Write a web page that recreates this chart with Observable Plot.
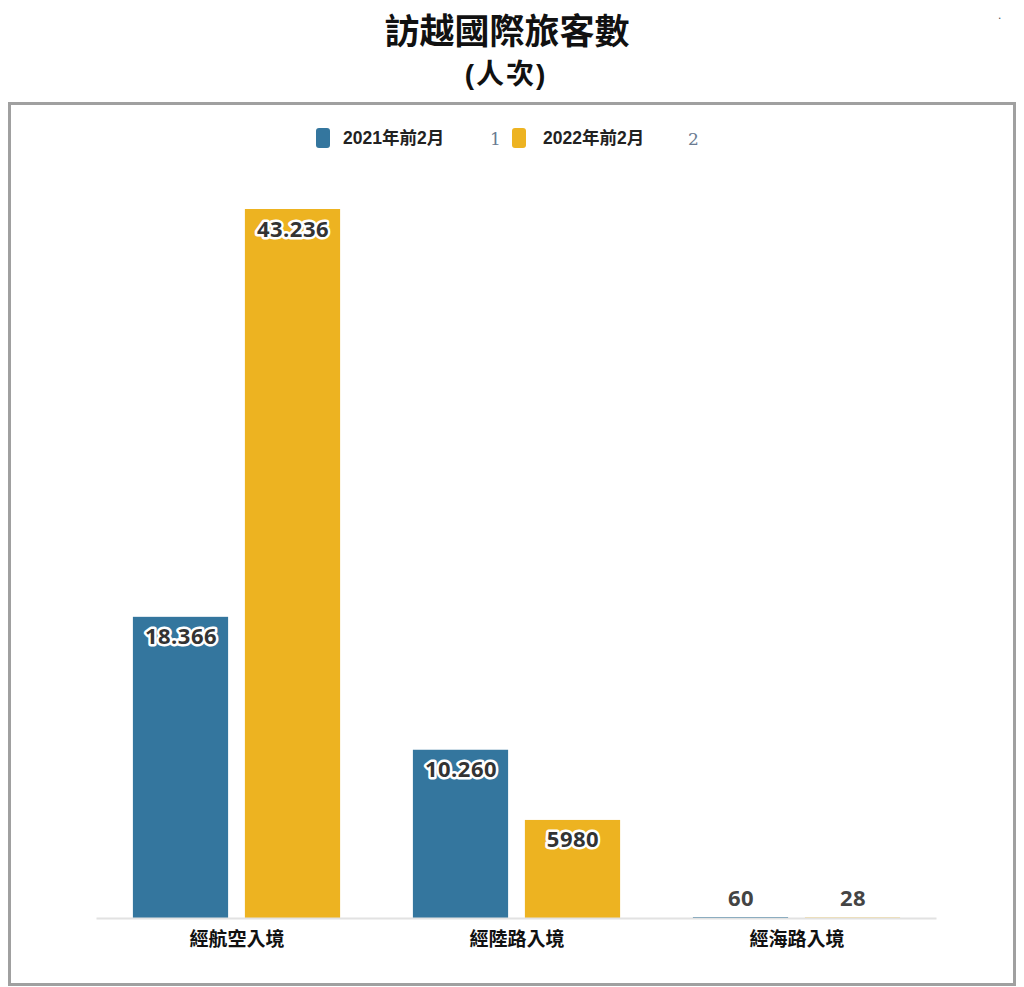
<!DOCTYPE html>
<html>
<head>
<meta charset="utf-8">
<script src="https://cdn.jsdelivr.net/npm/d3@7"></script>
<script src="https://cdn.jsdelivr.net/npm/@observablehq/plot@0.6"></script>
<style>
  html, body { margin: 0; padding: 0; background: #fff; }
  body { width: 1024px; height: 987px; position: relative; overflow: hidden;
         font-family: "Liberation Sans", Arial, "Noto Sans CJK TC", sans-serif; }
  #title { position: absolute; left: 0; width: 1014px; top: 11px; text-align: center;
           font-size: 35px; line-height: 42px; font-weight: bold; color: #111; }
  #subtitle { position: absolute; left: 0; width: 1012px; top: 57px; text-align: center;
              font-size: 28px; line-height: 36px; font-weight: bold; color: #111; letter-spacing: 2px; }
  #box { position: absolute; left: 8px; top: 102px; width: 1008px; height: 884px;
         border: 3px solid #a0a0a0; box-sizing: border-box; }
  #chart { position: absolute; left: 10px; top: 105px; }
  #chart g[aria-label="text"] text { letter-spacing: 0.5px; }
  .sw { position: absolute; width: 14px; height: 20px; border-radius: 3px; top: 128px; }
  .lt { position: absolute; top: 127px; font-size: 17.5px; line-height: 22px; font-weight: bold; color: #222;
        font-family: "Liberation Sans", Arial, "Noto Sans CJK TC", sans-serif; }
  .stray { position: absolute; top: 128px; font-size: 17px; line-height: 22px; color: #6a7a90;
           font-family: "DejaVu Serif", "Liberation Serif", serif; }
  #dot { position: absolute; left: 998px; top: 8px; font-size: 12px; color: #555; }
</style>
</head>
<body>
<div id="title">訪越國際旅客數</div>
<div id="subtitle">(人次)</div>
<div id="dot">.</div>
<div id="box"></div>
<div id="legend"></div>
<div id="chart"></div>
<script>
const categories = ["經航空入境", "經陸路入境", "經海路入境"];
const seriesNames = ["2021年前2月", "2022年前2月"];
const values2021 = [18366, 10260, 60];
const values2022 = [43236, 5980, 28];
const labels2021 = ["18.366", "10.260", "60"];
const labels2022 = ["43.236", "5980", "28"];
const colors = ["#34769e", "#edb321"];

const rows2021 = categories.map((c, i) => ({cat: c, v: values2021[i], label: labels2021[i]}));
const rows2022 = categories.map((c, i) => ({cat: c, v: values2022[i], label: labels2022[i]}));

// legend
const legend = document.getElementById("legend");
const legendPos = [{sw: 316, t: 343, s: 490, stray: "1"}, {sw: 512, t: 543, s: 688, stray: "2"}];
seriesNames.forEach((name, i) => {
  const sw = document.createElement("div");
  sw.className = "sw"; sw.style.left = legendPos[i].sw + "px"; sw.style.background = colors[i];
  legend.appendChild(sw);
  const t = document.createElement("div");
  t.className = "lt"; t.style.left = legendPos[i].t + "px"; t.textContent = name;
  legend.appendChild(t);
  const s = document.createElement("div");
  s.className = "stray"; s.style.left = legendPos[i].s + "px"; s.textContent = legendPos[i].stray;
  legend.appendChild(s);
});

const labelFont = {fontFamily: "'Open Sans', 'Noto Sans', sans-serif", fontWeight: 700, fontSize: 22};
const big = d => d.v > 2000;

const chart = Plot.plot({
  width: 1004,
  height: 878,
  marginTop: 104,
  marginBottom: 65,
  marginLeft: 86.5,
  marginRight: 77.5,
  style: {background: "transparent", fontFamily: "'Noto Sans CJK TC', sans-serif"},
  x: {domain: categories, paddingInner: 0.26, paddingOuter: 0.13, round: false, label: null},
  y: {domain: [0, 43236], axis: null},
  marks: [
    Plot.barY(rows2021, {x: "cat", y: "v", fill: colors[0], insetRight: 112}),
    Plot.barY(rows2022, {x: "cat", y: "v", fill: colors[1], insetLeft: 112}),
    Plot.ruleY([0], {stroke: "#e2e2e2", strokeWidth: 2}),
    Plot.axisX({tickSize: 0, tickPadding: 14, fontSize: 19, fontWeight: "bold", fill: "#111", label: null}),
    Plot.text(rows2021.filter(big), {x: "cat", y: "v", text: "label", dx: -56, dy: 20, fill: "#333", stroke: "white", strokeWidth: 5, ...labelFont}),
    Plot.text(rows2022.filter(big), {x: "cat", y: "v", text: "label", dx: 56, dy: 20, fill: "#333", stroke: "white", strokeWidth: 5, ...labelFont}),
    Plot.text(rows2021.filter(d => !big(d)), {x: "cat", y: "v", text: "label", dx: -56, dy: -19, fill: "#444", ...labelFont}),
    Plot.text(rows2022.filter(d => !big(d)), {x: "cat", y: "v", text: "label", dx: 56, dy: -19, fill: "#444", ...labelFont})
  ]
});
document.getElementById("chart").appendChild(chart);
</script>
</body>
</html>
